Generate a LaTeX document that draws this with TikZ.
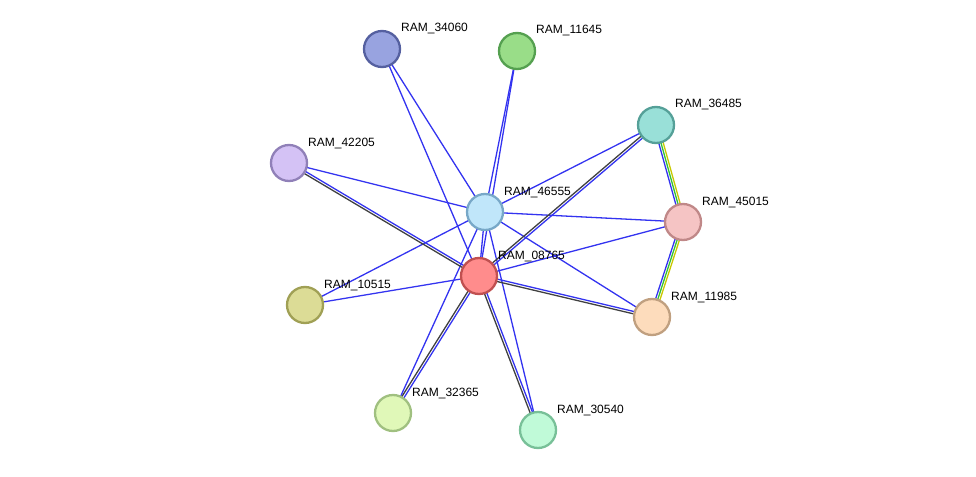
\documentclass[tikz,border=0pt]{standalone}
\usepackage{fontspec}
\setmainfont{Liberation Sans}
\usetikzlibrary{calc}
\pgfdeclarelayer{bg}\pgfsetlayers{bg,main}
\definecolor{eb}{HTML}{3333F0}
\definecolor{eg}{HTML}{404040}
\definecolor{ey}{HTML}{C8C800}
\definecolor{egr}{HTML}{33C033}
\tikzset{
 prot/.style 2 args={circle,minimum size=36pt,inner sep=0pt,fill=#1,draw=#2,line width=2.3pt},
 lab/.style={anchor=base west,font=\fontsize{12}{14}\selectfont,inner sep=0pt},
 ed/.style={line width=1.3pt}
}
\newcommand{\medge}[4]{\draw[ed,#4] ($(#1.center)!#3!90:(#2.center)$) -- ($(#2.center)!#3!-90:(#1.center)$);}
\newcommand{\prt}[5]{\definecolor{f#1}{HTML}{#4}\definecolor{d#1}{HTML}{#5}%
 \node[prot={f#1}{d#1}] (#1) at (#2,#3) {};\node[lab] at (#2+19,#3-17) {RAM\_#1};}
\begin{document}
\begin{tikzpicture}[x=1pt,y=-1pt]
\useasboundingbox (0,0) rectangle (976,476);
\prt{34060}{382}{49}{98A3E0}{5560A0}
\prt{11645}{517}{51}{99DD88}{55A050}
\prt{36485}{656}{125}{99E0D8}{55A098}
\prt{42205}{289}{163}{D4C2F5}{9080B8}
\prt{46555}{485}{212}{C0E6FA}{78A8C8}
\prt{45015}{683}{222}{F5C4C4}{C08888}
\prt{08765}{479}{276}{FF8C8C}{C05050}
\prt{10515}{305}{305}{DCDC96}{A0A055}
\prt{11985}{652}{317}{FDDCBC}{C0A080}
\prt{32365}{393}{413}{E0F8B8}{A0C080}
\prt{30540}{538}{430}{C0FAD8}{78C098}
\begin{pgfonlayer}{bg}
\foreach \a/\b in {34060/46555,34060/08765,11645/46555,11645/08765,36485/46555,42205/46555,
 46555/45015,46555/11985,46555/10515,46555/32365,46555/30540,46555/08765,08765/45015,08765/10515}
 {\draw[ed,eb] (\a.center) -- (\b.center);}
\foreach \a/\b in {36485/08765,42205/08765,08765/11985,08765/32365,08765/30540}
 {\medge{\a}{\b}{1.2pt}{eb}\medge{\a}{\b}{-1.2pt}{eg}}
\foreach \a/\b in {36485/45015,45015/11985}
 {\medge{\a}{\b}{2.2pt}{ey}\medge{\a}{\b}{0pt}{egr}\medge{\a}{\b}{-2.2pt}{eb}}
\end{pgfonlayer}
\end{tikzpicture}
\end{document}
